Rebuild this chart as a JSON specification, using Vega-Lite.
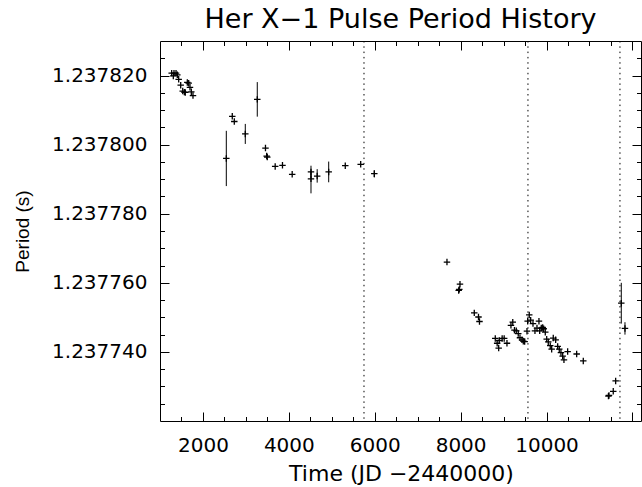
{
  "$schema": "https://vega.github.io/schema/vega-lite/v6.json",
  "width": 481,
  "height": 380,
  "autosize": "none",
  "padding": {"left": 160, "top": 41, "right": 1, "bottom": 66},
  "background": "white",
  "title": {"text": "Her X\u22121 Pulse Period History", "fontSize": 27, "font": "DejaVu Sans", "fontWeight": "normal", "color": "black", "anchor": "middle", "offset": 7},
  "config": {
    "view": {"stroke": "black", "strokeWidth": 1},
    "axis": {"labelFont": "DejaVu Sans", "labelFontSize": 20, "labelColor": "black", "titleFont": "DejaVu Sans", "titleFontSize": 22, "titleFontWeight": "normal", "titleColor": "black", "grid": false, "domain": false, "tickColor": "black", "tickWidth": 1}
  },
  "datasets": {
    "pts": [
      {"t":1272,"p":1.2378207},{"t":1326,"p":1.2378207},{"t":1373,"p":1.2378207},{"t":1310,"p":1.2378199},{"t":1403,"p":1.2378202},{"t":1435,"p":1.2378189},{"t":1482,"p":1.2378172},{"t":1529,"p":1.2378155},{"t":1566,"p":1.2378152},{"t":1589,"p":1.2378151},{"t":1636,"p":1.237818},{"t":1668,"p":1.2378178},{"t":1698,"p":1.2378166},{"t":1729,"p":1.2378153},{"t":1768,"p":1.2378142},
      {"t":2544,"p":1.237796},{"t":2683,"p":1.2378082},{"t":2730,"p":1.2378067},{"t":2986,"p":1.2378031},{"t":3265,"p":1.2378131},{"t":3456,"p":1.237799},{"t":3484,"p":1.2377967},{"t":3498,"p":1.2377964},{"t":3682,"p":1.2377937},{"t":3852,"p":1.237794},{"t":4078,"p":1.2377914},{"t":4516,"p":1.2377921},{"t":4516,"p":1.2377901},{"t":4660,"p":1.2377909},{"t":4928,"p":1.2377921},{"t":5314,"p":1.2377939},{"t":5673,"p":1.2377943},{"t":5990,"p":1.2377916},
      {"t":7682,"p":1.237766},{"t":7985,"p":1.2377596},{"t":7955,"p":1.2377578},{"t":7969,"p":1.2377581},{"t":8318,"p":1.2377513},{"t":8416,"p":1.2377501},{"t":8439,"p":1.2377488},{"t":8807,"p":1.2377439},{"t":8851,"p":1.2377425},{"t":8886,"p":1.2377411},{"t":8900,"p":1.2377433},{"t":8967,"p":1.2377439},{"t":9014,"p":1.2377439},{"t":9079,"p":1.2377425},{"t":9172,"p":1.2377477},{"t":9214,"p":1.2377486},{"t":9254,"p":1.2377463},{"t":9296,"p":1.2377461},{"t":9342,"p":1.2377453},{"t":9382,"p":1.2377441},{"t":9429,"p":1.2377435},{"t":9459,"p":1.2377431},{"t":9491,"p":1.237743},{"t":9545,"p":1.237746},{"t":9561,"p":1.2377489},{"t":9598,"p":1.2377507},{"t":9631,"p":1.2377492},{"t":9685,"p":1.2377482},{"t":9731,"p":1.2377461},{"t":9778,"p":1.2377469},{"t":9824,"p":1.2377489},{"t":9841,"p":1.2377461},{"t":9878,"p":1.2377469},{"t":9911,"p":1.2377471},{"t":9934,"p":1.2377467},{"t":9971,"p":1.2377457},{"t":10004,"p":1.2377437},{"t":10041,"p":1.2377429},{"t":10087,"p":1.2377418},{"t":10120,"p":1.2377408},{"t":10157,"p":1.237744},{"t":10213,"p":1.2377435},{"t":10260,"p":1.2377416},{"t":10297,"p":1.2377408},{"t":10336,"p":1.2377398},{"t":10376,"p":1.2377388},{"t":10406,"p":1.2377377},{"t":10492,"p":1.2377401},{"t":10702,"p":1.2377394},{"t":10856,"p":1.2377374},{"t":11442,"p":1.2377272},{"t":11454,"p":1.2377274},{"t":11554,"p":1.2377286},{"t":11610,"p":1.2377316},{"t":11741,"p":1.2377541},{"t":11827,"p":1.2377468}
    ],
    "err": [
      {"t":2544,"lo":1.237788,"hi":1.237804},
      {"t":2986,"lo":1.2378002,"hi":1.237806},
      {"t":3265,"lo":1.2378081,"hi":1.2378181},
      {"t":4516,"lo":1.2377903,"hi":1.2377939},
      {"t":4516,"lo":1.2377859,"hi":1.2377925},
      {"t":4660,"lo":1.237789,"hi":1.2377929},
      {"t":4928,"lo":1.2377891,"hi":1.2377951},
      {"t":5990,"lo":1.2377905,"hi":1.2377926},
      {"t":11741,"lo":1.2377482,"hi":1.23776},
      {"t":11827,"lo":1.237745,"hi":1.2377486}
    ],
    "lines": [{"t":5750},{"t":9568},{"t":11710}]
  },
  "resolve": {"axis": {"x": "independent", "y": "independent"}},
  "layer": [
    {
      "data": {"name": "lines"},
      "mark": {"type": "rule", "color": "black", "strokeWidth": 1, "strokeDash": [1.5, 3.8]},
      "encoding": {
        "x": {"field": "t", "type": "quantitative", "scale": {"domain": [1000, 12200], "nice": false, "zero": false}, "axis": null}
      }
    },
    {
      "data": {"name": "err"},
      "mark": {"type": "rule", "color": "black", "strokeWidth": 1},
      "encoding": {
        "x": {"field": "t", "type": "quantitative", "axis": {"orient": "bottom", "values": [2000, 4000, 6000, 8000, 10000, 12000], "labels": false, "tickSize": -9, "title": null}},
        "y": {"field": "lo", "type": "quantitative", "scale": {"domain": [1.23772, 1.23783], "nice": false, "zero": false}, "axis": {"orient": "left", "values": [1.23774, 1.23776, 1.23778, 1.2378, 1.23782], "labels": false, "tickSize": -9, "title": null}},
        "y2": {"field": "hi"}
      }
    },
    {
      "data": {"name": "pts"},
      "mark": {"type": "point", "opacity": 0},
      "encoding": {
        "x": {"field": "t", "type": "quantitative", "axis": {"orient": "top", "values": [2000, 4000, 6000, 8000, 10000, 12000], "labels": false, "tickSize": -9, "title": null}},
        "y": {"field": "p", "type": "quantitative", "axis": {"orient": "right", "values": [1.23774, 1.23776, 1.23778, 1.2378, 1.23782], "labels": false, "tickSize": -9, "title": null}}
      }
    },
    {
      "data": {"name": "pts"},
      "mark": {"type": "point", "opacity": 0},
      "encoding": {
        "x": {"field": "t", "type": "quantitative", "axis": {"orient": "bottom", "values": [1500, 2500, 3000, 3500, 4500, 5000, 5500, 6500, 7000, 7500, 8500, 9000, 9500, 10500, 11000, 11500], "labels": false, "tickSize": -4.5, "title": null}},
        "y": {"field": "p", "type": "quantitative", "axis": {"orient": "left", "values": [1.237725, 1.23773, 1.237735, 1.237745, 1.23775, 1.237755, 1.237765, 1.23777, 1.237775, 1.237785, 1.23779, 1.237795, 1.237805, 1.23781, 1.237815, 1.237825], "labels": false, "tickSize": -4.5, "title": null}}
      }
    },
    {
      "data": {"name": "pts"},
      "mark": {"type": "point", "opacity": 0},
      "encoding": {
        "x": {"field": "t", "type": "quantitative", "axis": {"orient": "top", "values": [1500, 2500, 3000, 3500, 4500, 5000, 5500, 6500, 7000, 7500, 8500, 9000, 9500, 10500, 11000, 11500], "labels": false, "tickSize": -4.5, "title": null}},
        "y": {"field": "p", "type": "quantitative", "axis": {"orient": "right", "values": [1.237725, 1.23773, 1.237735, 1.237745, 1.23775, 1.237755, 1.237765, 1.23777, 1.237775, 1.237785, 1.23779, 1.237795, 1.237805, 1.23781, 1.237815, 1.237825], "labels": false, "tickSize": -4.5, "title": null}}
      }
    },
    {
      "data": {"name": "pts"},
      "mark": {"type": "point", "shape": "M-1,0L1,0M0,-1L0,1", "size": 42, "filled": false, "stroke": "black", "strokeWidth": 1.3, "opacity": 1},
      "encoding": {
        "x": {"field": "t", "type": "quantitative", "axis": {"orient": "bottom", "values": [2000, 4000, 6000, 8000, 10000], "format": "d", "ticks": false, "labelPadding": 30, "labelBaseline": "alphabetic", "title": "Time (JD \u22122440000)", "titleX": 241, "titleY": 59, "titleBaseline": "alphabetic", "titleAnchor": "middle"}},
        "y": {"field": "p", "type": "quantitative", "axis": {"orient": "left", "values": [1.23774, 1.23776, 1.23778, 1.2378, 1.23782], "format": ".6f", "ticks": false, "labelPadding": 13, "title": "Period (s)", "titleFont": "Liberation Sans", "titleFontSize": 19, "titleX": -138, "titleY": 190, "titleBaseline": "middle", "titleAngle": -90, "titleAnchor": "middle"}}
      }
    }
  ]
}
